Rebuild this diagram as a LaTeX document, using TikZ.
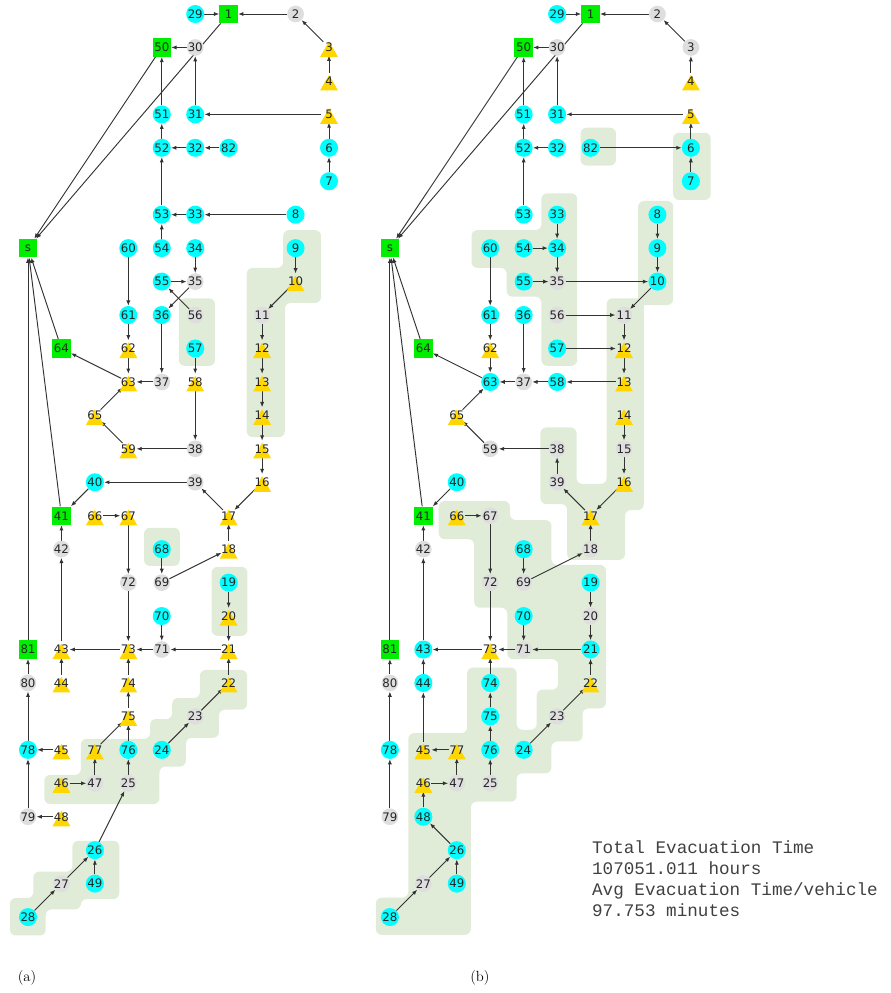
\documentclass[tikz,border=0pt]{standalone}
\usepackage{fontspec}
\newfontfamily\lblfont{DejaVu Sans}
\newfontfamily\statfont{Liberation Mono}
\usepackage{xcolor}
\usepackage{tikz}
\usetikzlibrary{arrows.meta,shapes.geometric}

\definecolor{nodecyan}{RGB}{0,255,255}
\definecolor{nodelime}{RGB}{0,238,0}
\definecolor{nodegold}{RGB}{255,214,0}
\definecolor{nodegrey}{RGB}{222,222,222}
\definecolor{patchgreen}{RGB}{224,236,216}

\pgfdeclarelayer{patches}
\pgfdeclarelayer{links}
\pgfsetlayers{patches,links,main}

\tikzset{
  txt/.style={font=\lblfont\fontsize{10}{11}\selectfont, text=black!85, inner sep=0pt},
  cy/.style={circle, fill=nodecyan, minimum size=0.54cm, inner sep=0pt, label={[txt]center:#1}},
  gr/.style={circle, fill=nodegrey, minimum size=0.5cm, inner sep=0pt, label={[txt]center:#1}},
  sq/.style={rectangle, fill=nodelime, minimum size=0.55cm, inner sep=0pt, label={[txt]center:#1}},
  tr/.style={circle, minimum size=0.47cm, inner sep=0pt,
    label={[regular polygon, regular polygon sides=3, fill=nodegold, minimum size=0.62cm,
      inner sep=0pt, yshift=-0.13cm]center:},
    label={[txt]center:#1}},
  link/.style={draw=black!80, line width=0.8pt, -{Latex[length=4.5pt,width=3.5pt]}},
  patch/.style={fill=patchgreen, rounded corners=5pt},
}

% name/column/row/kind in (a)/kind in (b)
\newcommand{\evacnodes}{s/0/7/sq/sq, 1/6/0/sq/sq, 2/8/0/gr/gr, 3/9/1/tr/gr, 4/9/2/tr/tr,
  5/9/3/tr/tr, 6/9/4/cy/cy, 7/9/5/cy/cy, 8/8/6/cy/cy, 9/8/7/cy/cy, 10/8/8/tr/cy,
  11/7/9/gr/gr, 12/7/10/tr/tr, 13/7/11/tr/tr, 14/7/12/tr/tr, 15/7/13/tr/gr,
  16/7/14/tr/tr, 17/6/15/tr/tr, 18/6/16/tr/gr, 19/6/17/cy/cy, 20/6/18/tr/gr,
  21/6/19/tr/cy, 22/6/20/tr/tr, 23/5/21/gr/gr, 24/4/22/cy/cy, 25/3/23/gr/gr,
  26/2/25/cy/cy, 27/1/26/gr/gr, 28/0/27/cy/cy, 29/5/0/cy/cy, 30/5/1/gr/gr,
  31/5/3/cy/cy, 32/5/4/cy/cy, 33/5/6/cy/cy, 34/5/7/cy/cy, 35/5/8/gr/gr,
  36/4/9/cy/cy, 37/4/11/gr/gr, 38/5/13/gr/gr, 39/5/14/gr/gr, 40/2/14/cy/cy,
  41/1/15/sq/sq, 42/1/16/gr/gr, 43/1/19/tr/cy, 44/1/20/tr/cy, 45/1/22/tr/tr,
  46/1/23/tr/tr, 47/2/23/gr/gr, 48/1/24/tr/cy, 49/2/26/cy/cy, 50/4/1/sq/sq,
  51/4/3/cy/cy, 52/4/4/cy/cy, 53/4/6/cy/cy, 54/4/7/cy/cy, 55/4/8/cy/cy,
  56/5/9/gr/gr, 57/5/10/cy/cy, 58/5/11/tr/cy, 59/3/13/tr/gr, 60/3/7/cy/cy,
  61/3/9/cy/cy, 62/3/10/tr/tr, 63/3/11/tr/cy, 64/1/10/sq/sq, 65/2/12/tr/tr,
  66/2/15/tr/tr, 67/3/15/tr/gr, 68/4/16/cy/cy, 69/4/17/gr/gr, 70/4/18/cy/cy,
  71/4/19/gr/gr, 72/3/17/gr/gr, 73/3/19/tr/tr, 74/3/20/tr/cy, 75/3/21/tr/cy,
  76/3/22/cy/cy, 77/2/22/tr/tr, 78/0/22/cy/cy, 79/0/24/gr/gr, 80/0/20/gr/gr,
  81/0/19/sq/sq, 82/6/4/cy/cy}

\begin{document}
\begin{tikzpicture}
    \useasboundingbox (-0.837,0.419) rectangle (25.80,-29.27);

    % ---------- (a) ----------
    \foreach \n/\c/\r/\ta/\tb in \evacnodes
        \node[\ta=\n] (a\n) at (\c,-\r) {};

    \begin{pgfonlayer}{links}
    \foreach \u/\v in {29/1, 2/1, 3/2, 4/3, 5/31, 6/5, 7/6, 30/50, 1/s, 50/s, 31/30,
        51/50, 52/51, 32/52, 82/32, 53/52, 33/53, 8/33, 54/53, 34/35, 55/35, 35/36,
        56/55, 60/61, 61/62, 62/63, 37/63, 36/37, 63/64, 64/s, 65/63, 59/65, 38/59,
        57/58, 58/38, 9/10, 10/11, 11/12, 12/13, 13/14, 14/15, 15/16, 16/17, 17/39,
        39/40, 40/41, 41/s, 42/41, 43/42, 18/17, 69/18, 68/69, 19/20, 20/21, 21/71,
        70/71, 71/73, 73/43, 66/67, 67/72, 72/73, 44/43, 22/21, 74/73, 75/74, 23/22,
        24/23, 81/s, 80/81, 78/80, 45/78, 77/75, 76/75, 46/47, 47/77, 25/76, 26/25,
        79/78, 48/79, 27/26, 49/26, 28/27}
        \draw[link] (a\u) -- (a\v);
    \end{pgfonlayer}

    \begin{pgfonlayer}{patches}
    \fill[patch] (7.63,-6.46) -- (8.76,-6.46) -- (8.76,-8.64) -- (7.68,-8.64) -- (7.68,-12.65)
        -- (6.54,-12.65) -- (6.54,-7.59) -- (7.63,-7.59) -- cycle;
    \fill[patch] (4.51,-8.5) rectangle (5.59,-10.52);
    \fill[patch] (3.47,-15.36) rectangle (4.54,-16.5);
    \fill[patch] (5.49,-16.53) rectangle (6.56,-18.59);
    \fill[patch] (1.58,-21.67) -- (3.65,-21.67) -- (3.65,-21.08) -- (4.31,-21.08) -- (4.31,-20.45)
        -- (5.14,-20.45) -- (5.14,-19.61) -- (6.55,-19.61) -- (6.55,-20.8) -- (5.71,-20.8)
        -- (5.71,-21.64) -- (4.72,-21.64) -- (4.72,-22.5) -- (3.93,-22.5) -- (3.93,-23.62)
        -- (0.49,-23.62) -- (0.49,-22.75) -- (1.58,-22.75) -- cycle;
    \fill[patch] (1.33,-24.72) -- (2.73,-24.72) -- (2.73,-26.46) -- (1.58,-26.46) -- (1.58,-26.77)
        -- (0.53,-26.77) -- (0.53,-27.55) -- (-0.54,-27.55) -- (-0.54,-26.43) -- (0.16,-26.43)
        -- (0.16,-25.64) -- (1.33,-25.64) -- cycle;
    \end{pgfonlayer}

    \node[font=\fontsize{12.5}{14}\selectfont] (capa) at (-0.03,-28.82) {(a)};

    % ---------- (b) ----------
    \begin{scope}[xshift=10.82cm]
    \foreach \n/\c/\r/\ta/\tb in \evacnodes
        \node[\tb=\n] (b\n) at (\c,-\r) {};

    \begin{pgfonlayer}{links}
    \foreach \u/\v in {29/1, 2/1, 3/2, 4/3, 5/31, 6/5, 7/6, 82/6, 30/50, 1/s, 50/s, 31/30,
        51/50, 52/51, 32/52, 53/52, 33/34, 54/34, 34/35, 55/35, 35/10, 8/9, 9/10, 10/11,
        56/11, 11/12, 57/12, 12/13, 13/58, 58/37, 37/63, 36/37, 60/61, 61/62, 62/63,
        63/64, 64/s, 65/63, 59/65, 38/59, 39/38, 14/15, 15/16, 16/17, 17/39, 40/41,
        41/s, 42/41, 43/42, 18/17, 69/18, 68/69, 66/67, 67/72, 72/73, 19/20, 20/21,
        21/71, 70/71, 71/73, 73/43, 44/43, 22/21, 74/73, 75/74, 76/75, 25/76, 23/22,
        24/23, 81/s, 80/81, 78/80, 79/78, 45/44, 77/45, 47/77, 46/47, 48/46, 26/48,
        27/26, 49/26, 28/27}
        \draw[link] (b\u) -- (b\v);
    \end{pgfonlayer}

    \begin{pgfonlayer}{patches}
    \fill[patch] (5.7,-3.4) rectangle (6.76,-4.53);
    \fill[patch] (8.47,-3.55) rectangle (9.59,-5.56);
    \fill[patch] (7.42,-5.59) rectangle (8.47,-8.7);
    \fill[patch] (4.53,-5.36) -- (5.6,-5.36) -- (5.6,-10.52) -- (4.53,-10.52) -- (4.53,-8.45)
        -- (3.49,-8.45) -- (3.49,-7.59) -- (2.44,-7.59) -- (2.44,-6.46) -- (4.53,-6.46) -- cycle;
    \fill[patch] (6.48,-8.5) -- (7.59,-8.5) -- (7.59,-14.83) -- (7.03,-14.83) -- (7.03,-16.32)
        -- (5.3,-16.32) -- (5.3,-14.65) -- (4.5,-14.65) -- (4.5,-12.36) -- (5.58,-12.36)
        -- (5.58,-14.05) -- (6.48,-14.05) -- cycle;
    \fill[patch] (1.46,-14.56) -- (3.59,-14.56) -- (3.59,-15.13) -- (4.83,-15.13) -- (4.83,-16.47)
        -- (6.46,-16.47) -- (6.46,-20.76) -- (5.76,-20.76) -- (5.76,-21.75) -- (4.83,-21.75)
        -- (4.83,-22.7) -- (3.79,-22.7) -- (3.79,-23.55) -- (2.42,-23.55) -- (2.42,-27.53)
        -- (-0.42,-27.53) -- (-0.42,-26.42) -- (0.55,-26.42) -- (0.55,-21.5) -- (2.31,-21.5)
        -- (2.31,-19.54) -- (3.79,-19.54) -- (3.79,-21.4) -- (4.39,-21.4) -- (4.39,-20.2)
        -- (5.03,-20.2) -- (5.03,-19.29) -- (3.51,-19.29) -- (3.51,-17.75) -- (2.52,-17.75)
        -- (2.52,-15.7) -- (1.46,-15.7) -- cycle;
    \end{pgfonlayer}

    \node[font=\fontsize{12.5}{14}\selectfont] (capb) at (2.69,-28.82) {(b)};
    \end{scope}

    % summary
    \node[anchor=north west, align=left, inner sep=0pt, text=black!75,
        font=\statfont\fontsize{15}{17.86}\selectfont] (stats) at (16.86,-24.72)
        {Total Evacuation Time\\107051.011 hours\\Avg Evacuation Time/vehicle\\97.753 minutes};
\end{tikzpicture}
\end{document}
